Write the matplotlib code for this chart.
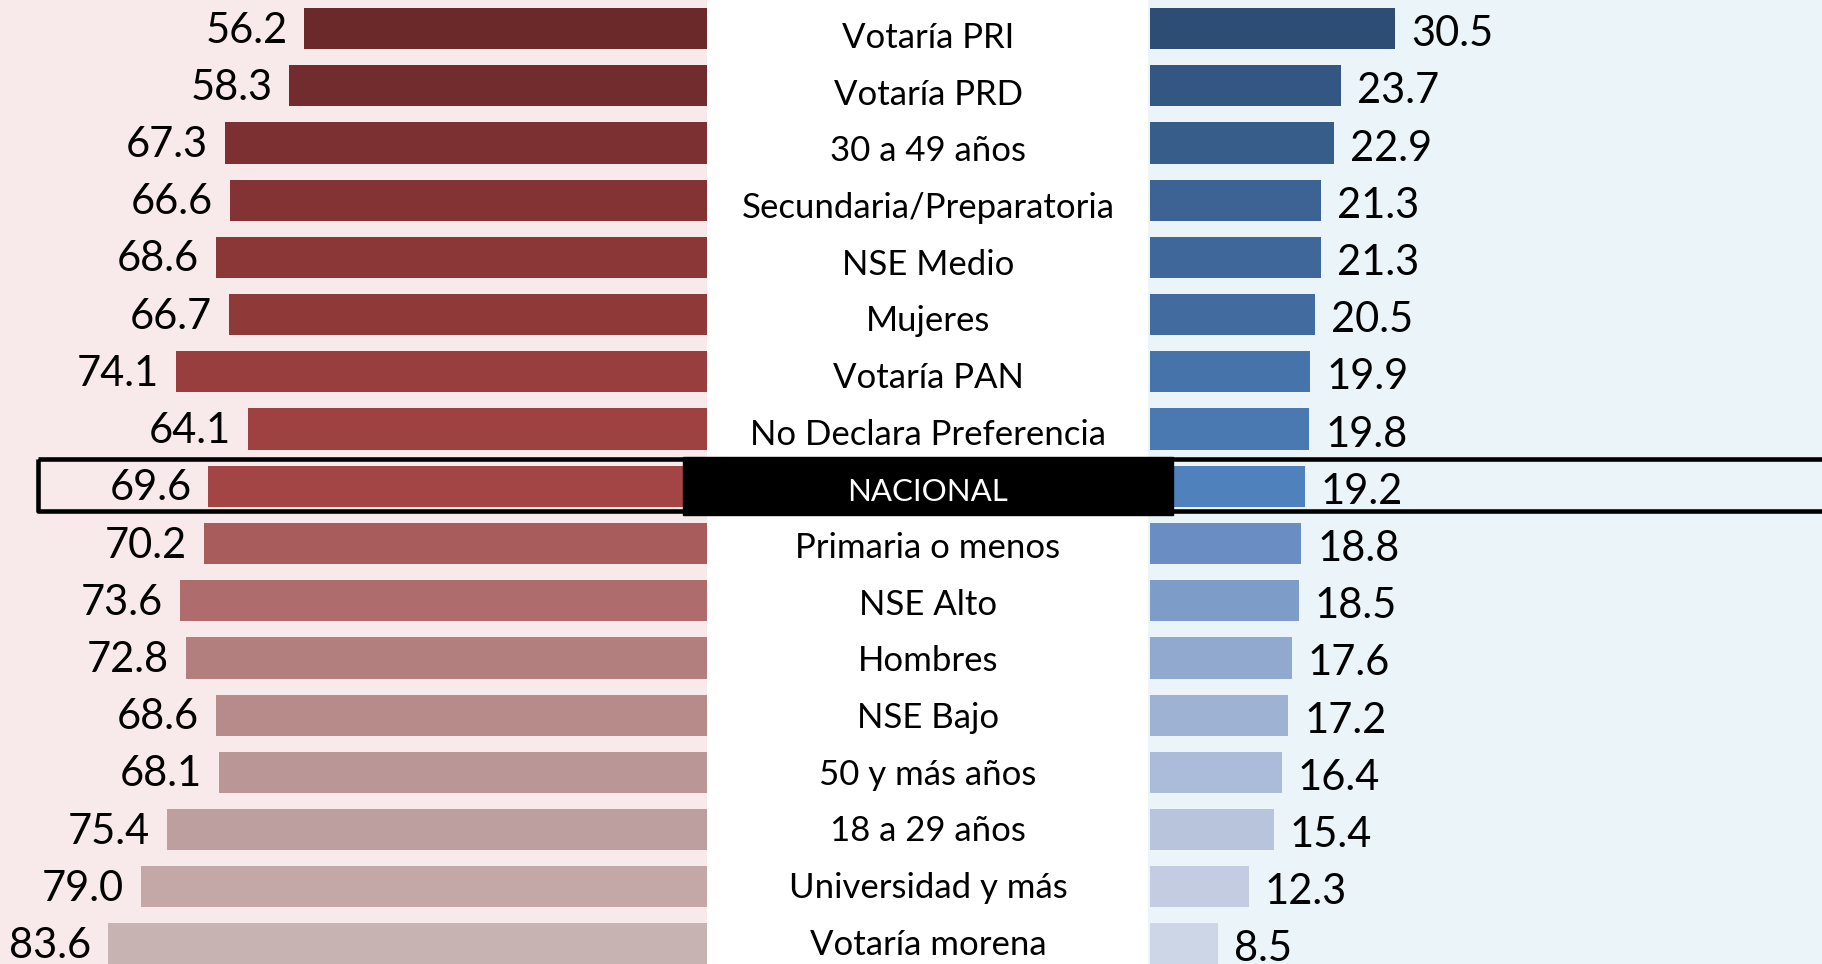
import numpy as np
import matplotlib
matplotlib.use("Agg")
import matplotlib.pyplot as plt
from matplotlib.patches import Rectangle

plt.rcParams['font.family'] = ['Lato', 'DejaVu Sans']

# datos (de arriba hacia abajo)
categorias = ['Votaría PRI', 'Votaría PRD', '30 a 49 años', 'Secundaria/Preparatoria',
              'NSE Medio', 'Mujeres', 'Votaría PAN', 'No Declara Preferencia', 'NACIONAL',
              'Primaria o menos', 'NSE Alto', 'Hombres', 'NSE Bajo', '50 y más años',
              '18 a 29 años', 'Universidad y más', 'Votaría morena']
izq = [56.2, 58.3, 67.3, 66.6, 68.6, 66.7, 74.1, 64.1, 69.6,
       70.2, 73.6, 72.8, 68.6, 68.1, 75.4, 79.0, 83.6]
der = [30.5, 23.7, 22.9, 21.3, 21.3, 20.5, 19.9, 19.8, 19.2,
       18.8, 18.5, 17.6, 17.2, 16.4, 15.4, 12.3, 8.5]

col_izq = ['#6B2929', '#732C2D', '#7C3031', '#843334', '#8B3637', '#8F3939', '#983E3E',
           '#9D4141', '#A34544', '#A95C5C', '#AE6C6C', '#B37F7E', '#B68B8A', '#BA9696',
           '#BE9F9F', '#C4A8A8', '#C8B3B3']
col_der = ['#2E4D74', '#335782', '#375D8A', '#3C6393', '#3F6799', '#426C9F', '#4673A9',
           '#4A79B2', '#4F81BD', '#6A8EC3', '#7E9CC8', '#91A9CF', '#9EB2D3', '#AABCD9',
           '#B7C4DC', '#C3CCE0', '#CDD6E6']

W, H = 1822, 964
fig = plt.figure(figsize=(W / 100, H / 100), dpi=100)
fig.patch.set_facecolor('white')
y = np.arange(len(categorias))
ylim = (16.35, -0.5)

# panel izquierdo
ax1 = fig.add_axes([0, 0, 707 / W, 1])
ax1.barh(y, izq, height=0.72, color=col_izq)
ax1.set_xlim(98.7, 0)
ax1.set_ylim(*ylim)
for i, v in enumerate(izq):
    ax1.annotate(f'{v:.1f}', xy=(v, i), xytext=(-17, -14), textcoords='offset pixels',
                 ha='right', va='baseline', fontsize=30, color='black')
ax1.axis('off')
ax1.add_patch(Rectangle((0, 0), 1, 1, transform=ax1.transAxes, color='#F8EAEA', zorder=-1))

# panel derecho
ax2 = fig.add_axes([1148 / W, 0, (W - 1148) / W, 1])
ax2.barh(y, der, height=0.72, color=col_der)
ax2.set_xlim(-0.25, 83.5)
ax2.set_ylim(*ylim)
for i, v in enumerate(der):
    ax2.annotate(f'{v:.1f}', xy=(v, i), xytext=(16, -17.5), textcoords='offset pixels',
                 ha='left', va='baseline', fontsize=30, color='black')
ax2.axis('off')
ax2.add_patch(Rectangle((0, 0), 1, 1, transform=ax2.transAxes, color='#EBF4F8', zorder=-1))

# capa superior: fila nacional
ax3 = fig.add_axes([0, 0, 1, 1])
ax3.set_xlim(0, W)
ax3.set_ylim(*ylim)
ax3.axis('off')
ax3.patch.set_alpha(0)

n = categorias.index('NACIONAL')
ax3.add_patch(Rectangle((683, n - 0.52), 490, 1.02, color='black', zorder=2))
ax3.add_patch(Rectangle((38, n - 0.48), W, 0.92, fill=False, ec='black', lw=3.3,
                        joinstyle='round', zorder=3))
ax3.annotate('NACIONAL', xy=(928, n), xytext=(0, -15), textcoords='offset pixels',
             ha='center', va='baseline', fontsize=22.5, color='white', zorder=4)

# etiquetas centrales (un poco más juntas que las barras)
ax4 = fig.add_axes([0, 0, 1, 1])
ax4.set_xlim(0, W)
ax4.set_ylim(16.52, -0.494)
ax4.axis('off')
ax4.patch.set_alpha(0)
for i, c in enumerate(categorias):
    if c == 'NACIONAL':
        continue
    ax4.annotate(c, xy=(928, i), xytext=(0, -20), textcoords='offset pixels',
                 ha='center', va='baseline', fontsize=25, color='black')

fig.savefig('out.png', dpi=100)
